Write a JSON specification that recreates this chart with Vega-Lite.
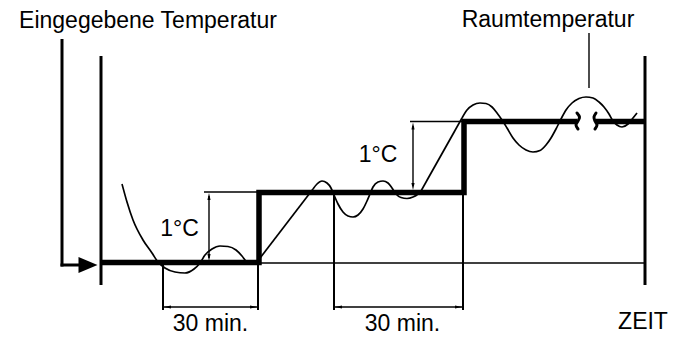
{
  "$schema": "https://vega.github.io/schema/vega-lite/v6.json",
  "width": 677,
  "height": 340,
  "autosize": {"type": "fit", "contains": "padding"},
  "padding": 0,
  "background": "white",
  "config": {"view": {"stroke": null}},
  "encoding": {
    "x": {"field": "x", "type": "quantitative", "scale": {"domain": [0, 677], "nice": false, "zero": false}, "axis": null},
    "y": {"field": "y", "type": "quantitative", "scale": {"domain": [0, 340], "reverse": true, "nice": false, "zero": false}, "axis": null}
  },
  "layer": [
    {
      "data": {"values": [
        {"part": "baseline", "x": 258, "y": 263, "x2": 645, "y2": 263},
        {"part": "dT1 top", "x": 204, "y": 192, "x2": 258, "y2": 192},
        {"part": "dT2 top", "x": 410, "y": 121.5, "x2": 463, "y2": 121.5},
        {"part": "dt1", "x": 163, "y": 307, "x2": 258, "y2": 307},
        {"part": "dt2", "x": 334, "y": 307, "x2": 463, "y2": 307},
        {"part": "dT1", "x": 209, "y": 196, "x2": 209, "y2": 258},
        {"part": "dT2", "x": 413, "y": 126, "x2": 413, "y2": 186},
        {"part": "leader", "x": 589, "y": 33, "x2": 589, "y2": 88}
      ]},
      "mark": {"type": "rule", "color": "#000", "strokeWidth": 1.4},
      "encoding": {"x2": {"field": "x2"}, "y2": {"field": "y2"}}
    },
    {
      "data": {"values": [
        {"part": "input", "x": 62, "y": 39, "x2": 62, "y2": 266.5},
        {"part": "input h", "x": 60.5, "y": 265, "x2": 80, "y2": 265},
        {"part": "left axis", "x": 101, "y": 56, "x2": 101, "y2": 285},
        {"part": "right axis", "x": 645, "y": 56, "x2": 645, "y2": 285}
      ]},
      "mark": {"type": "rule", "color": "#000", "strokeWidth": 3},
      "encoding": {"x2": {"field": "x2"}, "y2": {"field": "y2"}}
    },
    {
      "data": {"values": [
        {"part": "ext1a", "x": 163, "y": 262, "x2": 163, "y2": 310},
        {"part": "ext1b", "x": 258, "y": 262, "x2": 258, "y2": 310},
        {"part": "ext2a", "x": 334, "y": 192, "x2": 334, "y2": 310},
        {"part": "ext2b", "x": 463, "y": 121, "x2": 463, "y2": 310}
      ]},
      "mark": {"type": "rule", "color": "#000", "strokeWidth": 2},
      "encoding": {"x2": {"field": "x2"}, "y2": {"field": "y2"}}
    },
    {
      "data": {"values": [
        {"seg": "c1", "x": 122, "y": 184},
        {"seg": "c1", "x": 127, "y": 202},
        {"seg": "c1", "x": 133, "y": 220},
        {"seg": "c1", "x": 143, "y": 240},
        {"seg": "c1", "x": 152, "y": 253},
        {"seg": "c1", "x": 158, "y": 262},
        {"seg": "c1", "x": 165, "y": 268},
        {"seg": "c1", "x": 175, "y": 272},
        {"seg": "c1", "x": 185, "y": 273},
        {"seg": "c1", "x": 194, "y": 269},
        {"seg": "c1", "x": 200, "y": 263},
        {"seg": "c1", "x": 205, "y": 255},
        {"seg": "c1", "x": 212, "y": 249},
        {"seg": "c1", "x": 220, "y": 246},
        {"seg": "c1", "x": 228, "y": 246.5},
        {"seg": "c1", "x": 236, "y": 250},
        {"seg": "c1", "x": 242, "y": 256},
        {"seg": "c1", "x": 246, "y": 261},
        {"seg": "c1", "x": 252, "y": 264},
        {"seg": "c1", "x": 257, "y": 263},
        {"seg": "r1", "x": 257, "y": 262},
        {"seg": "r1", "x": 313, "y": 189},
        {"seg": "c2", "x": 313, "y": 189},
        {"seg": "c2", "x": 317, "y": 184},
        {"seg": "c2", "x": 322, "y": 181},
        {"seg": "c2", "x": 327, "y": 183},
        {"seg": "c2", "x": 331, "y": 188},
        {"seg": "c2", "x": 334, "y": 195},
        {"seg": "c2", "x": 338, "y": 204},
        {"seg": "c2", "x": 343, "y": 212},
        {"seg": "c2", "x": 348, "y": 216},
        {"seg": "c2", "x": 353, "y": 217},
        {"seg": "c2", "x": 358, "y": 215},
        {"seg": "c2", "x": 363, "y": 209},
        {"seg": "c2", "x": 367, "y": 201},
        {"seg": "c2", "x": 370, "y": 194},
        {"seg": "c2", "x": 373, "y": 187},
        {"seg": "c2", "x": 378, "y": 182},
        {"seg": "c2", "x": 383, "y": 181},
        {"seg": "c2", "x": 388, "y": 183},
        {"seg": "c2", "x": 392, "y": 188},
        {"seg": "c2", "x": 396, "y": 194},
        {"seg": "c2", "x": 401, "y": 197.5},
        {"seg": "c2", "x": 407, "y": 198.5},
        {"seg": "c2", "x": 413, "y": 197},
        {"seg": "c2", "x": 418, "y": 194},
        {"seg": "c2", "x": 421, "y": 191},
        {"seg": "r2", "x": 421, "y": 191},
        {"seg": "r2", "x": 462, "y": 118},
        {"seg": "c3", "x": 462, "y": 118},
        {"seg": "c3", "x": 467, "y": 110},
        {"seg": "c3", "x": 473, "y": 105},
        {"seg": "c3", "x": 480, "y": 103},
        {"seg": "c3", "x": 486, "y": 103.5},
        {"seg": "c3", "x": 492, "y": 107},
        {"seg": "c3", "x": 497, "y": 113},
        {"seg": "c3", "x": 502, "y": 120},
        {"seg": "c3", "x": 507, "y": 128},
        {"seg": "c3", "x": 513, "y": 138},
        {"seg": "c3", "x": 519, "y": 145},
        {"seg": "c3", "x": 526, "y": 150},
        {"seg": "c3", "x": 533, "y": 152},
        {"seg": "c3", "x": 540, "y": 150.5},
        {"seg": "c3", "x": 546, "y": 145},
        {"seg": "c3", "x": 551, "y": 138},
        {"seg": "c3", "x": 556, "y": 129},
        {"seg": "c3", "x": 561, "y": 119},
        {"seg": "c3", "x": 566, "y": 110},
        {"seg": "c3", "x": 572, "y": 103},
        {"seg": "c3", "x": 579, "y": 98.5},
        {"seg": "c3", "x": 586, "y": 97},
        {"seg": "c3", "x": 593, "y": 98},
        {"seg": "c3", "x": 599, "y": 102},
        {"seg": "c3", "x": 604, "y": 107},
        {"seg": "c3", "x": 609, "y": 114},
        {"seg": "c3", "x": 613, "y": 121},
        {"seg": "c3", "x": 617, "y": 125},
        {"seg": "c3", "x": 622, "y": 127},
        {"seg": "c3", "x": 628, "y": 124},
        {"seg": "c3", "x": 633, "y": 118},
        {"seg": "c3", "x": 637, "y": 113}
      ]},
      "mark": {"type": "line", "color": "#000", "strokeWidth": 1.7, "interpolate": "monotone"},
      "encoding": {"detail": {"field": "seg"}, "order": {"value": null}}
    },
    {
      "data": {"values": [
        {"seg": "s1", "x": 101, "y": 262.5},
        {"seg": "s1", "x": 259, "y": 262.5},
        {"seg": "s1", "x": 259, "y": 192.5},
        {"seg": "s1", "x": 464, "y": 192.5},
        {"seg": "s1", "x": 464, "y": 121.5},
        {"seg": "s1", "x": 577, "y": 121.5},
        {"seg": "s2", "x": 596, "y": 121.5},
        {"seg": "s2", "x": 645, "y": 121.5}
      ]},
      "mark": {"type": "line", "color": "#000", "strokeWidth": 5.5, "strokeJoin": "miter", "strokeCap": "butt"},
      "encoding": {"detail": {"field": "seg"}, "order": {"value": null}}
    },
    {
      "data": {"values": [
        {"seg": "b1", "x": 577, "y": 113},
        {"seg": "b1", "x": 579.5, "y": 117},
        {"seg": "b1", "x": 578, "y": 121},
        {"seg": "b1", "x": 576, "y": 125},
        {"seg": "b1", "x": 578, "y": 129},
        {"seg": "b2", "x": 596, "y": 113},
        {"seg": "b2", "x": 594, "y": 117},
        {"seg": "b2", "x": 595, "y": 121},
        {"seg": "b2", "x": 597, "y": 125},
        {"seg": "b2", "x": 595, "y": 129}
      ]},
      "mark": {"type": "line", "color": "#000", "strokeWidth": 3, "interpolate": "cardinal", "strokeCap": "round"},
      "encoding": {"detail": {"field": "seg"}, "order": {"value": null}}
    },
    {
      "data": {"values": [
        {"dir": "left", "x": 164, "y": 307},
        {"dir": "right", "x": 257, "y": 307},
        {"dir": "left", "x": 335, "y": 307},
        {"dir": "right", "x": 462, "y": 307},
        {"dir": "up", "x": 209, "y": 193},
        {"dir": "down", "x": 209, "y": 261},
        {"dir": "up", "x": 413, "y": 122.5},
        {"dir": "down", "x": 413, "y": 190}
      ]},
      "mark": {"type": "point", "filled": true, "color": "#000", "opacity": 1, "size": 49, "strokeWidth": 0},
      "encoding": {
        "shape": {"field": "dir", "type": "nominal", "legend": null,
          "scale": {"domain": ["up", "down", "left", "right"],
            "range": ["M0,0L0.45,2L-0.45,2Z", "M0,0L0.45,-2L-0.45,-2Z", "M0,0L2,0.45L2,-0.45Z", "M0,0L-2,0.45L-2,-0.45Z"]}}
      }
    },
    {
      "data": {"values": [{"part": "input arrow", "x": 97.5, "y": 265}]},
      "mark": {"type": "point", "filled": true, "color": "#000", "opacity": 1, "size": 361, "strokeWidth": 0, "shape": "M0,0L-2,0.85L-2,-0.85Z"},
      "encoding": {}
    },
    {
      "data": {"values": [
        {"label": "Eingegebene Temperatur", "x": 148, "y": 28},
        {"label": "Raumtemperatur", "x": 548, "y": 27},
        {"label": "1°C", "x": 179.5, "y": 236},
        {"label": "1°C", "x": 378, "y": 162},
        {"label": "30 min.", "x": 210.5, "y": 331},
        {"label": "30 min.", "x": 402.5, "y": 331},
        {"label": "ZEIT", "x": 643, "y": 329}
      ]},
      "mark": {"type": "text", "font": "Liberation Sans", "fontSize": 23, "color": "#000", "align": "center", "baseline": "alphabetic"},
      "encoding": {"text": {"field": "label"}}
    }
  ]
}
